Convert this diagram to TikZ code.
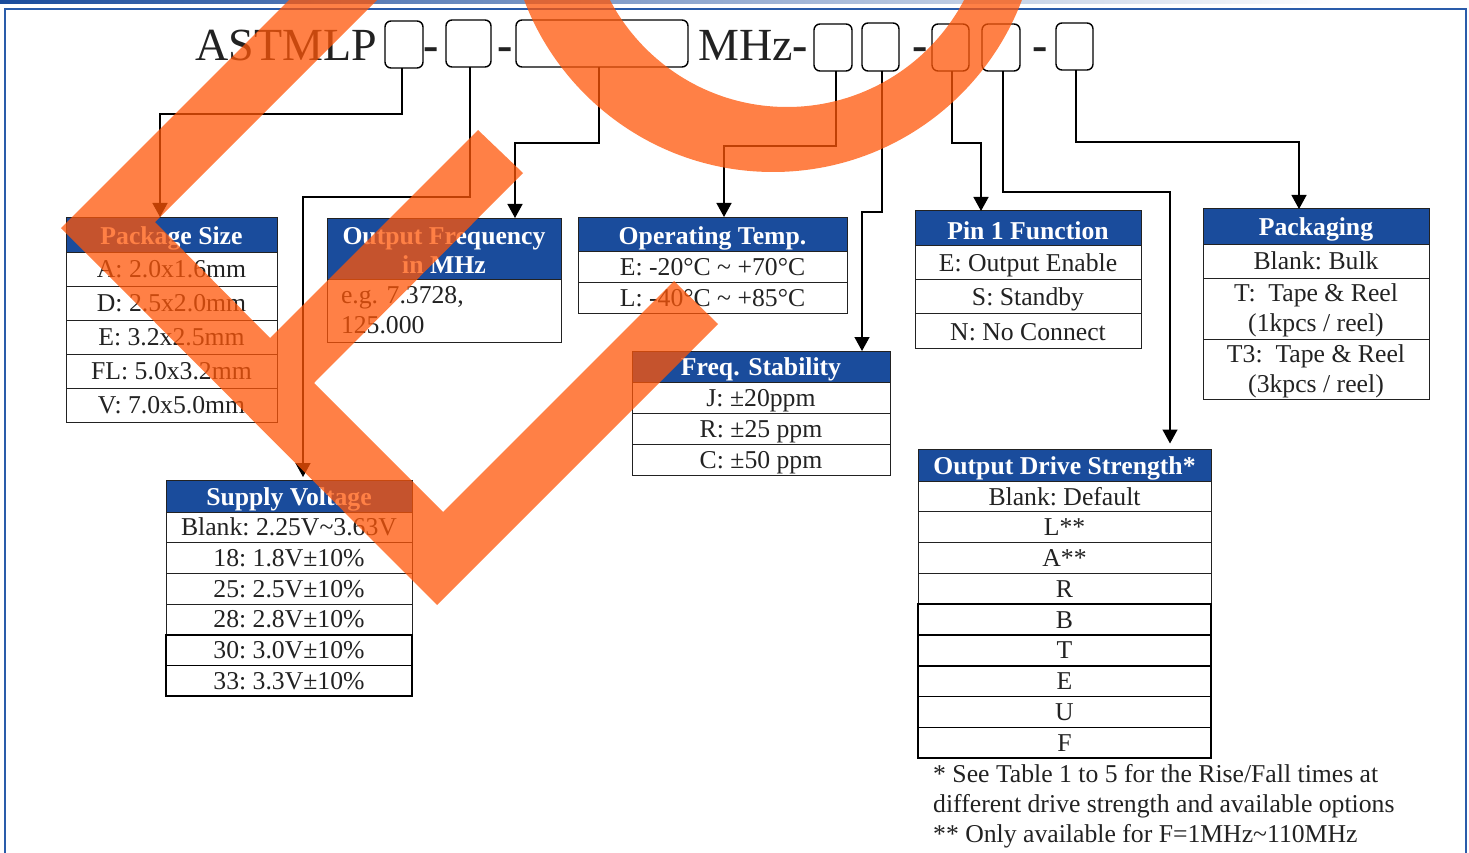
\documentclass[tikz,border=0pt]{standalone}
\usepackage{fontspec}
\setmainfont{Liberation Serif}
\usetikzlibrary{positioning}
\usetikzlibrary{calc}
\usetikzlibrary{arrows.meta}
\definecolor{headblue}{RGB}{26,76,156}
\definecolor{framblue}{RGB}{42,92,170}
\definecolor{markorange}{RGB}{255,86,8}
\definecolor{inkgrey}{RGB}{34,34,34}
\newcommand{\bodyfont}{\fontsize{25.7}{30}\selectfont\frenchspacing}
\newcommand{\headfont}{\fontsize{25.7}{29}\selectfont\bfseries}
\newcommand{\bigfont}{\fontsize{46}{50}\selectfont}
\newcommand{\lowerline}{\rule{0pt}{22pt}}
\tikzset{
	base/.style = {rectangle, inner sep=0pt, outer sep=0pt},
	head/.style = {base, draw=inkgrey, line width=1pt, fill=headblue, text=white, font=\headfont, text height=17pt, text depth=0pt},
	headtwo/.style = {base, draw=inkgrey, line width=1pt, fill=headblue, text=white, font=\headfont, align=center},
	row/.style = {base, draw=inkgrey, line width=1pt, text=inkgrey, font=\bodyfont, text height=17pt, text depth=0pt},
	rowfree/.style = {base, draw=inkgrey, line width=1pt, text=inkgrey, font=\bodyfont, align=center},
	rowdark/.style = {row, draw=black, line width=1.6pt},
	slot/.style = {draw=black, line width=1.4pt, rounded corners=6pt, inner sep=0pt, outer sep=0pt},
	title/.style = {anchor=base west, inner sep=0pt, text=inkgrey, font=\bigfont},
	hyph/.style = {anchor=base, inner sep=0pt, text=inkgrey, font=\bigfont\bfseries},
	wire/.style = {draw=black, line width=1.4pt, -{Triangle[length=14pt,width=15pt]}}
}
\begin{document}
\begin{tikzpicture}[x=1pt, y=-1pt, node distance=0pt]
	\useasboundingbox (0,0) rectangle (1469,853);
	\fill[left color=headblue, right color=white] (0,0) rectangle (1340,3.5);
	\draw[framblue, line width=2.5pt] (5,853) -- (5,9) -- (1466,9) -- (1466,853);

	\node (part) [title] at (195.5,61) {ASTMLP};
	\node (mhz) [title] at (698.5,61) {MHz};
	\node (d1) [hyph] at (431,61) {-};
	\node (d2) [hyph] at (505,61) {-};
	\node (d3) [hyph] at (800,61) {-};
	\node (d4) [hyph] at (920,61) {-};
	\node (d5) [hyph] at (1040,61) {-};
	\node (s1) [slot, minimum width=38pt, minimum height=47pt] at (404,44.5) {};
	\node (s2) [slot, minimum width=45pt, minimum height=47pt] at (468.5,43.5) {};
	\node (s3) [slot, minimum width=172pt, minimum height=47pt] at (602,43.5) {};
	\node (s4) [slot, minimum width=38pt, minimum height=47pt] at (833,47.5) {};
	\node (s5) [slot, minimum width=37pt, minimum height=48pt] at (880.5,47) {};
	\node (s6) [slot, minimum width=37pt, minimum height=47pt] at (950.5,47.5) {};
	\node (s7) [slot, minimum width=38pt, minimum height=47pt] at (1001,47.5) {};
	\node (s8) [slot, minimum width=37pt, minimum height=47pt] at (1074.5,46.5) {};

	\begin{scope}[every node/.append style={minimum width=211pt, minimum height=34pt}]
	\node (pkg) [head, text height=20pt, minimum height=35pt, anchor=north west] at (66,217) {Package Size};
	\node (pkgA) [row, below = of pkg] {A: 2.0x1.6mm};
	\node (pkgD) [row, below = of pkgA] {D: 2.5x2.0mm};
	\node (pkgE) [row, below = of pkgD] {E: 3.2x2.5mm};
	\node (pkgF) [row, below = of pkgE] {FL: 5.0x3.2mm};
	\node (pkgV) [row, below = of pkgF] {V: 7.0x5.0mm};
	\end{scope}

	\begin{scope}[every node/.append style={minimum width=234pt}]
	\node (frq) [headtwo, minimum height=61pt, anchor=north west] at (327,218) {\rule{0pt}{20pt}Output Frequency\\in MHz};
	\node (frqT) [rowfree, minimum height=63pt, align=left, text width=206pt, below = of frq] {e.g. 7.3728,\\125.000};
	\end{scope}

	\begin{scope}[every node/.append style={minimum width=269pt, minimum height=31pt}]
	\node (tmp) [head, text height=21pt, minimum height=34pt, anchor=north west] at (578,217) {Operating Temp.};
	\node (tmpE) [row, below = of tmp] {E: -20°C \textasciitilde{} +70°C};
	\node (tmpL) [row, below = of tmpE] {L: -40°C \textasciitilde{} +85°C};
	\end{scope}

	\begin{scope}[every node/.append style={minimum width=258pt, minimum height=31pt}]
	\node (stb) [head, anchor=north west] at (632,351) {Freq. Stability};
	\node (stbJ) [row, below = of stb] {J: ±20ppm};
	\node (stbR) [row, below = of stbJ] {R: ±25 ppm};
	\node (stbC) [row, below = of stbR] {C: ±50 ppm};
	\end{scope}

	\begin{scope}[every node/.append style={minimum width=226pt, minimum height=34.3pt}]
	\node (pin) [head, text height=22pt, anchor=north west] at (915,211) {Pin 1 Function};
	\node (pinE) [row, text height=19pt, below = of pin] {E: Output Enable};
	\node (pinS) [row, below = of pinE] {S: Standby};
	\node (pinN) [row, text height=19pt, below = of pinS] {N: No Connect};
	\end{scope}

	\begin{scope}[every node/.append style={minimum width=226pt}]
	\node (pak) [head, text height=19pt, minimum height=35pt, anchor=north west] at (1203,209) {Packaging};
	\node (pakB) [row, minimum height=34pt, below = of pak] {Blank: Bulk};
	\node (pakT) [rowfree, minimum height=61pt, below = of pakB] {\lowerline T:\ \ Tape \& Reel\\(1kpcs / reel)};
	\node (pakK) [rowfree, minimum height=60pt, below = of pakT] {\lowerline T3:\ \ Tape \& Reel\\(3kpcs / reel)};
	\end{scope}

	\begin{scope}[every node/.append style={minimum width=246pt, minimum height=30.7pt}]
	\node (sup) [head, text height=19pt, minimum height=32pt, anchor=north west] at (166,480) {Supply Voltage};
	\node (supB) [row, below = of sup] {Blank: 2.25V\textasciitilde{}3.63V};
	\node (sup18) [row, below = of supB] {18: 1.8V±10\%};
	\node (sup25) [row, below = of sup18] {25: 2.5V±10\%};
	\node (sup28) [row, below = of sup25] {28: 2.8V±10\%};
	\node (sup30) [rowdark, below = of sup28] {30: 3.0V±10\%};
	\node (sup33) [rowdark, below = of sup30] {33: 3.3V±10\%};
	\end{scope}

	\begin{scope}[every node/.append style={minimum width=293pt, minimum height=30.8pt}]
	\node (drv) [head, text height=19pt, minimum height=31.5pt, anchor=north west] at (918,449.5) {Output Drive Strength*};
	\node (drvB) [row, text height=19pt, below = of drv] {Blank: Default};
	\node (drvL) [row, below = of drvB] {L**};
	\node (drvA) [row, below = of drvL] {A**};
	\node (drvR) [row, below = of drvA] {R};
	\node (drvBB) [rowdark, below = of drvR] {B};
	\node (drvT) [rowdark, below = of drvBB] {T};
	\node (drvEE) [rowdark, below = of drvT] {E};
	\node (drvU) [rowdark, below = of drvEE] {U};
	\node (drvF) [rowdark, below = of drvU] {F};
	\end{scope}
	\node (note) [anchor=north west, inner sep=0pt, align=left, text=inkgrey, font=\bodyfont] at (933,764) {* See Table 1 to 5 for the Rise/Fall times at\\different drive strength and available options\\** Only available for F=1MHz\textasciitilde{}110MHz};

	\coordinate (t1) at (160,114);
	\coordinate (t2) at (303,197);
	\coordinate (t3) at (515,143);
	\coordinate (t4) at (724,146);
	\coordinate (t5) at (862,212);
	\coordinate (t6) at (981,143);
	\coordinate (t7) at (1170,192);
	\coordinate (t8) at (1299,142);
	\draw[wire] ([xshift=-2pt]s1.south) |- (t1) -- (t1 |- pkg.north);
	\draw[wire, shorten >=3pt] ([xshift=1.5pt]s2.south) |- (t2) -- (t2 |- sup.north);
	\draw[wire] ([xshift=-3pt]s3.south) |- (t3) -- (t3 |- frq.north);
	\draw[wire] ([xshift=3pt]s4.south) |- (t4) -- (t4 |- tmp.north);
	\draw[wire] ([xshift=1.5pt]s5.south) |- (t5) -- (t5 |- stb.north);
	\draw[wire] ([xshift=1.5pt]s6.south) |- (t6) -- (t6 |- pin.north);
	\draw[wire, shorten >=6pt] ([xshift=2pt]s7.south) |- (t7) -- (t7 |- drv.north);
	\draw[wire] ([xshift=1.5pt]s8.south) |- (t8) -- (t8 |- pak.north);

	\begin{scope}
	\clip (0,0) rectangle (1469,853);
	\fill[markorange, fill opacity=0.75] (289,0) -- (377,0) -- (155,222) -- (270,338) -- (478,130) -- (523,173) -- (314,383) -- (443,512) -- (674,281) -- (718,324) -- (437,605) -- (61,228) -- cycle;
	\fill[markorange, fill opacity=0.75, even odd rule] (773,-94) circle (266pt) (787,-93) circle (200pt);
	\end{scope}
\end{tikzpicture}
\end{document}
